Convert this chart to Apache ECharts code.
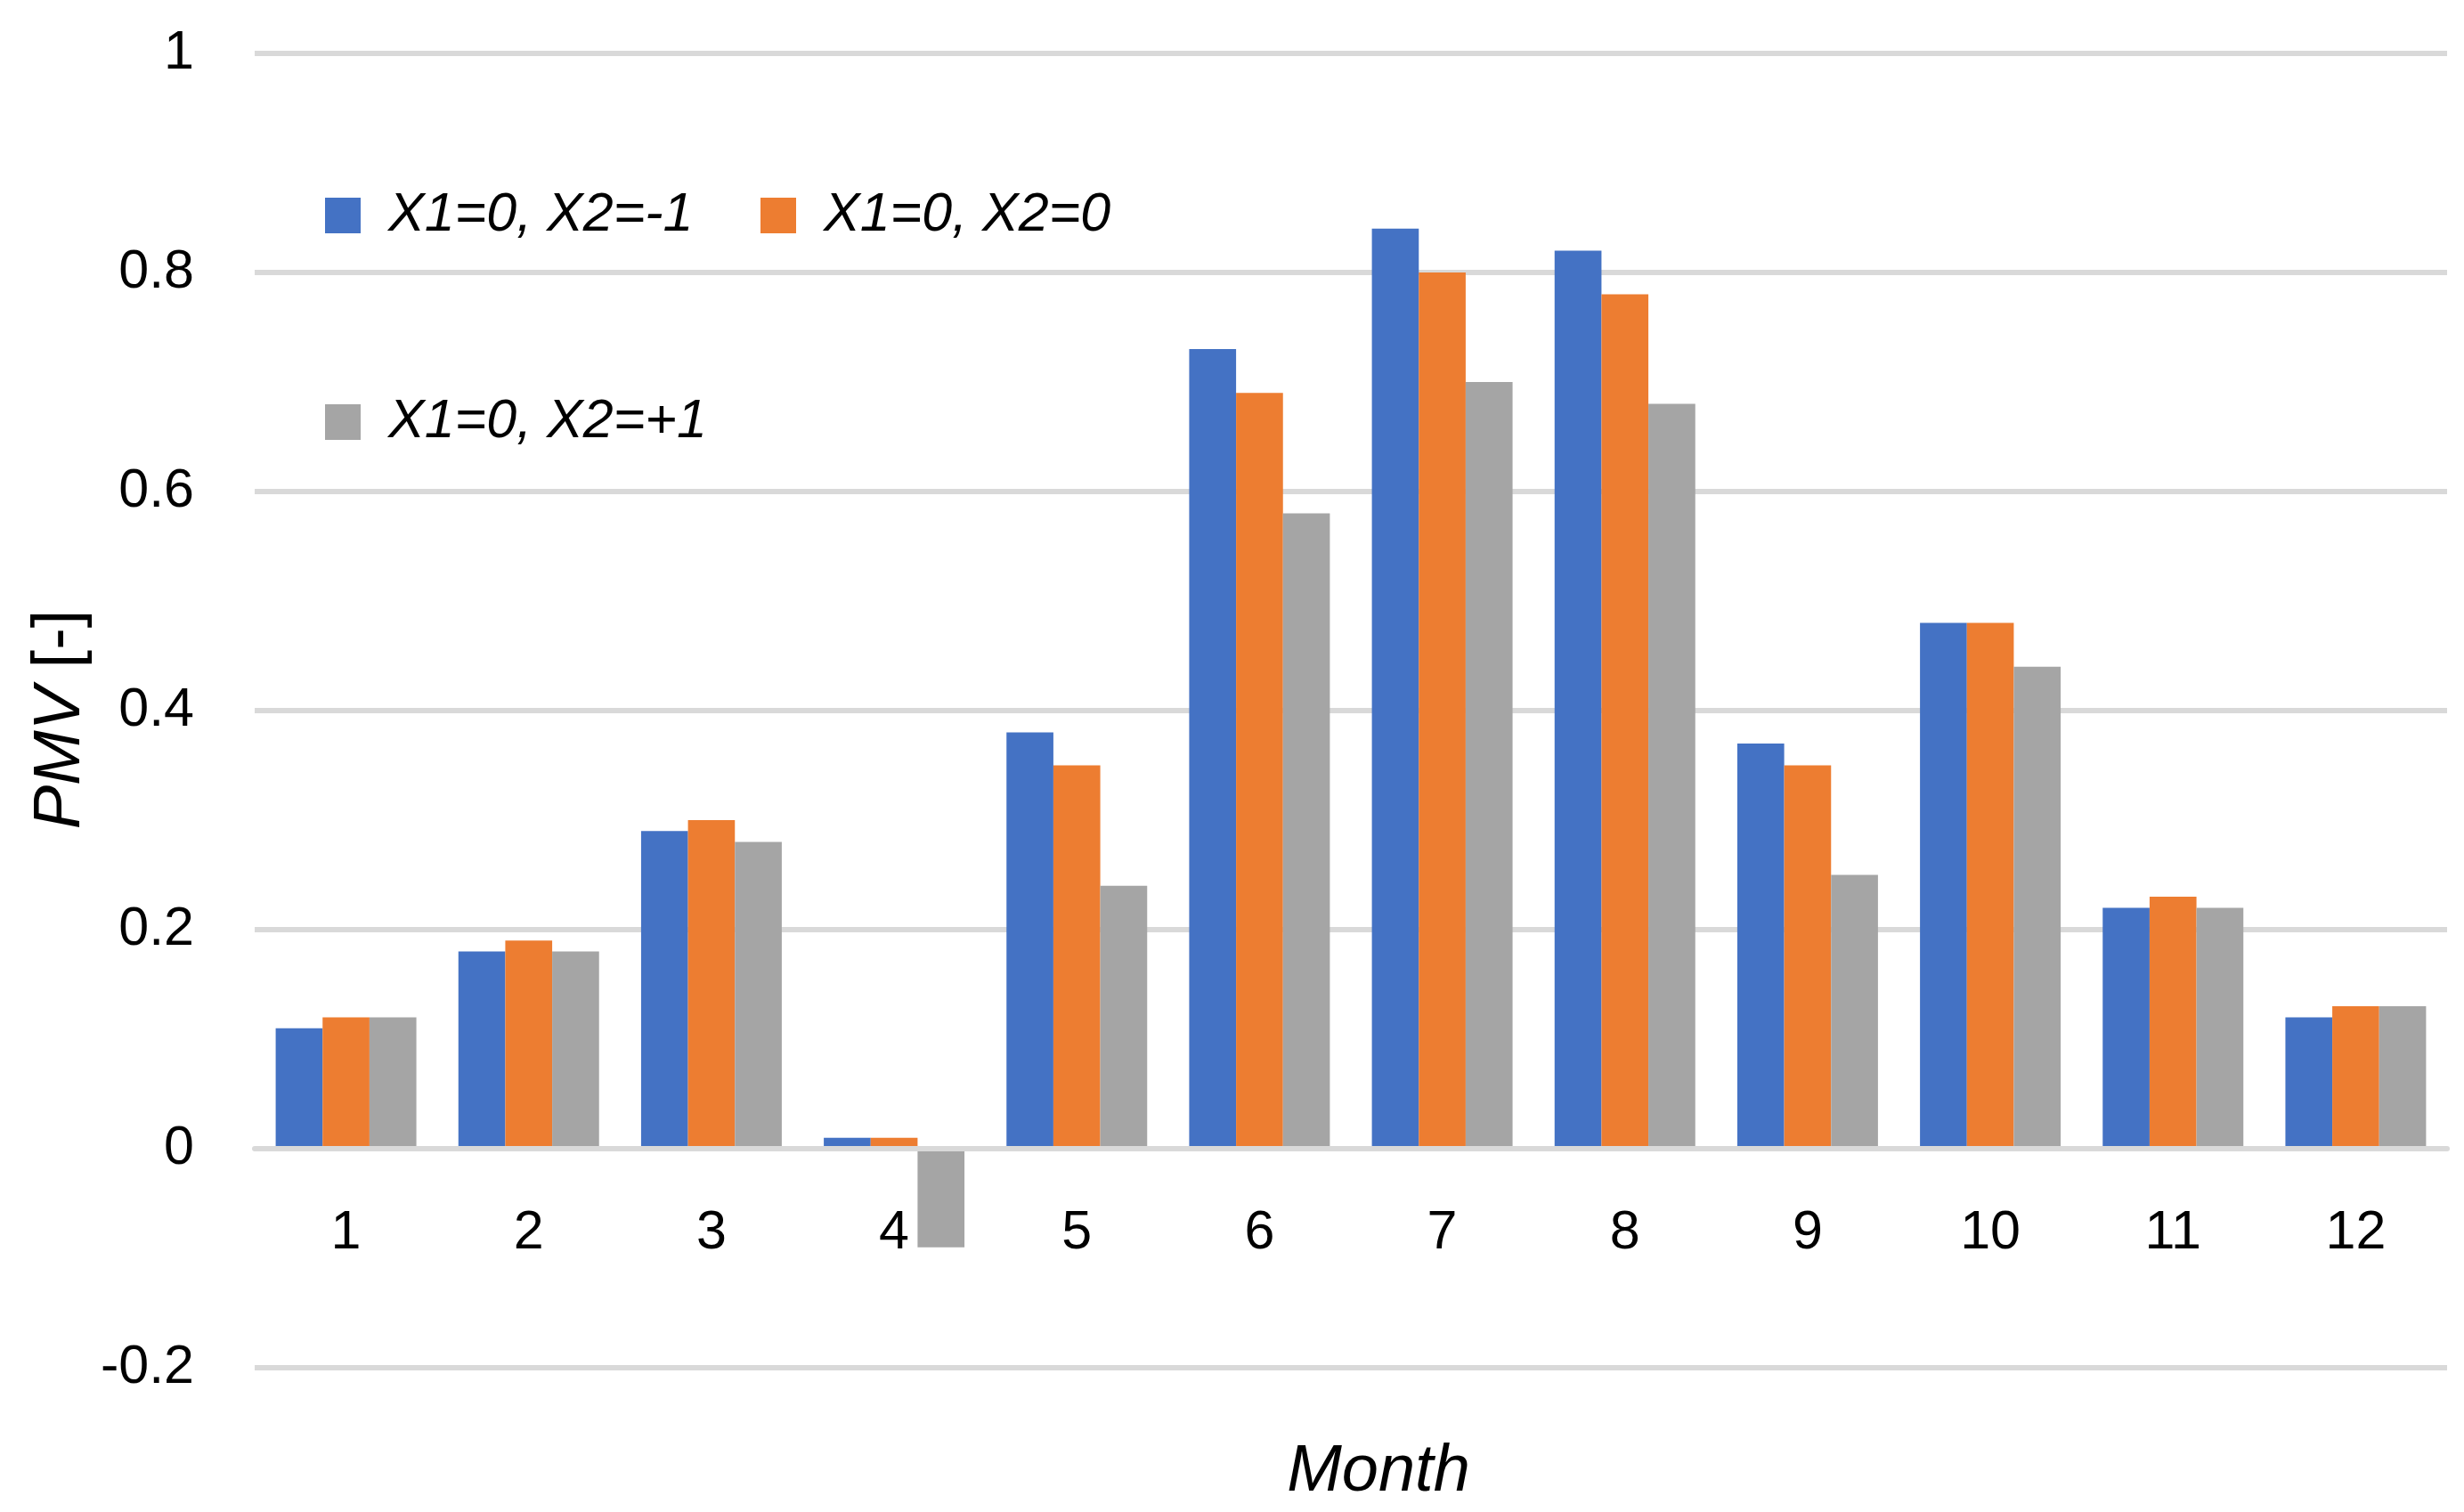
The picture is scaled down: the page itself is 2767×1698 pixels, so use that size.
<!DOCTYPE html>
<html>
<head>
<meta charset="utf-8">
<script src="https://cdn.jsdelivr.net/npm/echarts@6/dist/echarts.min.js"></script>
<style>
html,body{margin:0;padding:0;background:#fff;}
#chart{width:2767px;height:1698px;}
</style>
</head>
<body>
<div id="chart"></div>
<script>
const months = ['1','2','3','4','5','6','7','8','9','10','11','12'];
const seriesNames = ['X1=0, X2=-1', 'X1=0, X2=0', 'X1=0, X2=+1'];
const pmvMinus1 = [0.11, 0.18, 0.29, 0.01, 0.38, 0.73, 0.84, 0.82, 0.37, 0.48, 0.22, 0.12];
const pmvZero   = [0.12, 0.19, 0.30, 0.01, 0.35, 0.69, 0.80, 0.78, 0.35, 0.48, 0.23, 0.13];
const pmvPlus1  = [0.12, 0.18, 0.28, -0.09, 0.24, 0.58, 0.70, 0.68, 0.25, 0.44, 0.22, 0.13];
const yTicks = [-0.2, 0, 0.2, 0.4, 0.6, 0.8, 1];

const colors = ['#4472C4', '#ED7D31', '#A5A5A5'];
const FONT = "'Liberation Sans', Arial, sans-serif";

const chart = echarts.init(document.getElementById('chart'));

const gridTop = 60, gridBottom = 162;
const plotH = 1698 - gridTop - gridBottom;
const yMin = yTicks[0], yMax = yTicks[yTicks.length - 1];
// distance from the bottom of the plot up to the value 0
const zeroOffset = plotH * (0 - yMin) / (yMax - yMin);

const legendBase = {
  orient: 'horizontal',
  padding: 0,
  itemWidth: 40,
  itemHeight: 40,
  icon: 'rect',
  textStyle: {
    fontFamily: FONT,
    fontSize: 61,
    fontStyle: 'italic',
    color: '#000',
    lineHeight: 70,
    padding: [0, 0, 0, 26]
  }
};

chart.setOption({
  animation: false,
  backgroundColor: '#fff',
  color: colors,
  grid: { left: 286, right: 19, top: gridTop, bottom: gridBottom, containLabel: false },
  legend: [
    Object.assign({}, legendBase, { data: [seriesNames[0]], left: 365, top: 207 }),
    Object.assign({}, legendBase, { data: [seriesNames[1]], left: 854, top: 207 }),
    Object.assign({}, legendBase, { data: [seriesNames[2]], left: 365, top: 439 })
  ],
  xAxis: {
    type: 'category',
    data: months,
    z: 5,
    position: 'bottom',
    offset: -zeroOffset,
    axisLine: { show: true, onZero: false, lineStyle: { color: '#D9D9D9', width: 6 } },
    axisTick: { show: false },
    axisLabel: { fontFamily: FONT, fontSize: 61, color: '#000', margin: 65 },
    splitLine: { show: false }
  },
  yAxis: {
    type: 'value',
    min: yMin,
    max: yMax,
    interval: 0.2,
    axisLine: { show: false },
    axisTick: { show: false },
    axisLabel: {
      fontFamily: FONT, fontSize: 61, color: '#000', margin: 68,
      formatter: function (v) { return String(Math.round(v * 10) / 10); }
    },
    splitLine: { show: true, lineStyle: { color: '#D9D9D9', width: 6 } }
  },
  graphic: [
    {
      type: 'text',
      x: 1548, y: 1653,
      style: {
        text: 'Month', fontFamily: FONT, fontSize: 74, fontStyle: 'italic',
        fill: '#000', align: 'center', verticalAlign: 'middle'
      }
    },
    {
      type: 'text',
      x: 68, y: 808,
      rotation: Math.PI / 2,
      style: {
        text: '{i|PMV} [-]',
        fontFamily: FONT, fontSize: 74, fill: '#000',
        align: 'center', verticalAlign: 'middle',
        rich: { i: { fontFamily: FONT, fontSize: 74, fontStyle: 'italic', fill: '#000' } }
      }
    }
  ],
  series: [
    { name: seriesNames[0], type: 'bar', data: pmvMinus1, barGap: '0%', barCategoryGap: '23%', itemStyle: { color: colors[0] } },
    { name: seriesNames[1], type: 'bar', data: pmvZero, barGap: '0%', barCategoryGap: '23%', itemStyle: { color: colors[1] } },
    { name: seriesNames[2], type: 'bar', data: pmvPlus1, barGap: '0%', barCategoryGap: '23%', itemStyle: { color: colors[2] } }
  ]
});
</script>
</body>
</html>
